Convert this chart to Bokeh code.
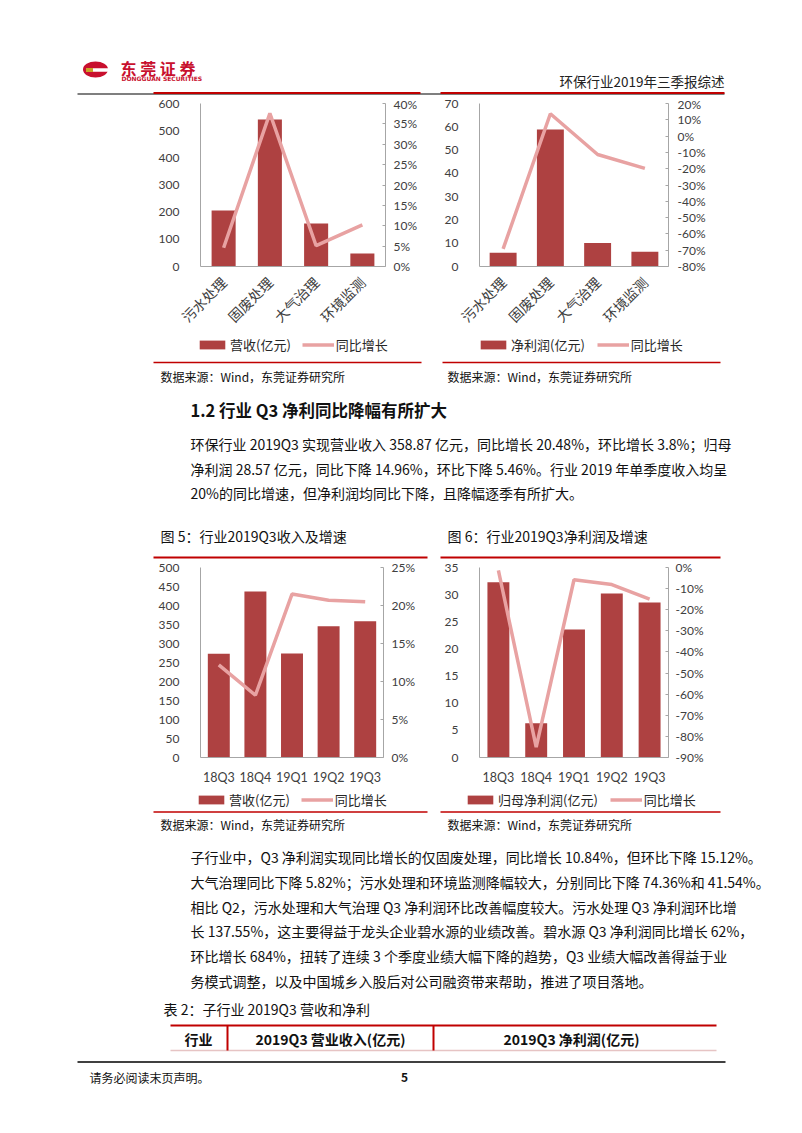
from math import pi
from bokeh.plotting import figure
from bokeh.layouts import column, row
from bokeh.models import (Range1d, FactorRange, LinearAxis, FixedTicker,
                          PrintfTickFormatter, Legend, LegendItem)
from bokeh.core.properties import value
from bokeh.embed import file_html
from bokeh.resources import INLINE

# ---------------- data ----------------
sub_industries = ["污水处理", "固废处理", "大气治理", "环境监测"]
sub_revenue = [206, 541, 158, 48]            # 营收(亿元)
sub_revenue_yoy = [4.6, 37.6, 5.1, 10.2]     # 同比增长 %
sub_profit = [5.9, 58.8, 10.1, 6.3]          # 净利润(亿元)
sub_profit_yoy = [-69.2, 13.7, -11.3, -19.8] # 同比增长 %

quarters = ["18Q3", "18Q4", "19Q1", "19Q2", "19Q3"]
q_revenue = [273, 437, 274, 345.7, 358.87]     # 营收(亿元)
q_revenue_yoy = [12.2, 8.2, 21.5, 20.7, 20.48]  # 同比增长 %
q_profit = [32.3, 6.3, 23.6, 30.2, 28.57]       # 归母净利润(亿元)
q_profit_yoy = [-1.4, -85.1, -5.8, -8.1, -14.96]

c1_ticks = [0, 100, 200, 300, 400, 500, 600]
c1_pct_ticks = [0, 5, 10, 15, 20, 25, 30, 35, 40]
c2_ticks = [0, 10, 20, 30, 40, 50, 60, 70]
c2_pct_ticks = [-80, -70, -60, -50, -40, -30, -20, -10, 0, 10, 20]
c3_ticks = [0, 50, 100, 150, 200, 250, 300, 350, 400, 450, 500]
c3_pct_ticks = [0, 5, 10, 15, 20, 25]
c4_ticks = [0, 5, 10, 15, 20, 25, 30, 35]
c4_pct_ticks = [-90, -80, -70, -60, -50, -40, -30, -20, -10, 0]

# ---------------- styles ----------------
CJK = "Noto Sans CJK SC"
NUM = "Lato"
BAR = "#AE4141"
LINE = "#E8A2A2"
AXIS = "#A6A6A6"
RED = "#C00000"
TXT = "#111111"
NAN = float("nan")


def chart(cats, bars, pcts, yt, pt, width, height, borders,
          bar_width, rotate, right_standoff):
    p = figure(x_range=FactorRange(factors=cats),
               y_range=Range1d(yt[0], yt[-1]),
               width=width, height=height, output_backend="svg",
               toolbar_location=None,
               min_border_left=borders[0], min_border_right=borders[1],
               min_border_top=borders[2], min_border_bottom=borders[3],
               outline_line_color=None, background_fill_color="white",
               border_fill_color="white")
    p.extra_y_ranges = {"pct": Range1d(pt[0], pt[-1])}
    p.grid.grid_line_color = None

    left = p.left[0]
    left.ticker = FixedTicker(ticks=yt)
    left.axis_line_color = AXIS
    left.major_tick_line_color = None
    left.minor_tick_line_color = None
    left.major_label_standoff = 15
    left.major_label_text_font = NUM
    left.major_label_text_font_size = "12px"
    left.major_label_text_color = "#404040"

    ax = LinearAxis(y_range_name="pct", ticker=FixedTicker(ticks=pt),
                    formatter=PrintfTickFormatter(format="%d%%"))
    ax.axis_line_color = AXIS
    ax.major_tick_line_color = AXIS
    ax.major_tick_in = 3
    ax.major_tick_out = 0
    ax.minor_tick_line_color = None
    ax.major_label_standoff = right_standoff
    ax.major_label_text_font = NUM
    ax.major_label_text_font_size = "12px"
    ax.major_label_text_color = "#404040"
    p.add_layout(ax, "right")

    xa = p.below[0]
    xa.axis_line_color = AXIS
    xa.major_tick_line_color = None
    xa.minor_tick_line_color = None
    if rotate:
        xa.major_label_orientation = pi / 4
        xa.major_label_text_font = CJK
        xa.major_label_text_font_size = "14px"
        xa.major_label_standoff = 7
    else:
        xa.major_label_text_font = NUM
        xa.major_label_text_font_size = "12.5px"
        xa.major_label_standoff = 6
    xa.major_label_text_color = "#404040"

    p.vbar(x=cats, top=bars, width=bar_width, fill_color=BAR, line_color=None)
    p.line(x=cats, y=pcts, y_range_name="pct", line_color=LINE, line_width=3.5)
    return p


def strip(y0, y1):
    p = figure(width=802, height=y1 - y0, x_range=Range1d(0, 802),
               y_range=Range1d(y1, y0), output_backend="svg",
               toolbar_location=None, min_border=0, x_axis_location=None,
               y_axis_location=None, outline_line_color=None,
               background_fill_color="white", border_fill_color="white")
    p.grid.grid_line_color = None
    return p


def add_legend(s, bar_label, loc, spacing):
    # key glyphs for the chart above (bar series + growth line); NaN data,
    # so they only appear as legend keys
    rb = s.vbar(x=[NAN], top=[NAN], width=1, fill_color=BAR, line_color=None)
    rl = s.line(x=[NAN, NAN], y=[NAN, NAN], line_color=LINE, line_width=3.5)
    lg = Legend(items=[LegendItem(label=bar_label, renderers=[rb]),
                       LegendItem(label="同比增长", renderers=[rl])],
                location=loc, orientation="horizontal",
                glyph_width=32, glyph_height=11, label_height=14,
                label_standoff=2, spacing=spacing, padding=0,
                margin=0, border_line_color=None, background_fill_alpha=0,
                label_text_font=CJK, label_text_font_size="13px",
                label_text_color="#262626")
    s.add_layout(lg)


def txt(p, xs, ys, texts, size, color=TXT, align="left", bold=False, font=CJK):
    p.text(x=xs, y=ys, text=texts, text_font=value(font),
           text_font_size=size, text_color=color, text_align=align,
           text_baseline="middle",
           text_font_style="bold" if bold else "normal")


# ---------------- header strip (0..96) ----------------
sa = strip(0, 96)
sa.ellipse(x=[95], y=[69], width=25, height=16, fill_color="#C8102E",
           line_color=None)
sa.rect(x=[100], y=[69.5], width=20, height=3.5, fill_color="white",
        line_color=None)
sa.rect(x=[89], y=[69.5], width=7, height=4, fill_color="#C9A227",
        line_color=None)
txt(sa, [120], [67], ["东 莞 证 券"], "16px", color="#C8102E", bold=True)
txt(sa, [121], [77.5], ["DONGGUAN SECURITIES"], "6px", color="#C8102E",
    bold=True, font="DejaVu Sans")
txt(sa, [724], [80], ["环保行业2019年三季报综述"], "13.5px", color="#222222",
    align="right")
sa.segment(x0=[77], y0=[93.5], x1=[724], y1=[93.5], line_color="#000000",
           line_width=1.2)
sa.segment(x0=[153, 440], y0=[92.5, 92.5], x1=[420, 724], y1=[92.5, 92.5],
           line_color=RED, line_width=2)

# ---------------- chart row 1 (96..336) ----------------
c1 = chart(sub_industries, sub_revenue, sub_revenue_yoy,
           c1_ticks, c1_pct_ticks, 435, 240, (200, 50, 7, 69), 0.52, True, 8)
c2 = chart(sub_industries, sub_profit, sub_profit_yoy,
           c2_ticks, c2_pct_ticks, 367, 240, (44, 134, 7, 69), 0.57, True, 9)

# ---------------- middle strip (336..559) ----------------
sb = strip(336, 559)
add_legend(sb, "营收(亿元)", (196, 205), 11)
add_legend(sb, "净利润(亿元)", (477, 205), 12)
sb.segment(x0=[153, 442], y0=[362, 362], x1=[421, 720], y1=[362, 362],
           line_color=RED, line_width=1.5)
txt(sb, [160, 447], [376, 376],
    ["数据来源：Wind，东莞证券研究所", "数据来源：Wind，东莞证券研究所"], "12px")
txt(sb, [190], [409], ["1.2 行业 Q3 净利同比降幅有所扩大"], "16.5px", bold=True)
txt(sb, [190, 190, 190], [443, 468, 492],
    ["环保行业 2019Q3 实现营业收入 358.87 亿元，同比增长 20.48%，环比增长 3.8%；归母",
     "净利润 28.57 亿元，同比下降 14.96%，环比下降 5.46%。行业 2019 年单季度收入均呈",
     "20%的同比增速，但净利润均同比下降，且降幅逐季有所扩大。"], "14px")
txt(sb, [160, 447], [535, 535],
    ["图 5：行业2019Q3收入及增速", "图 6：行业2019Q3净利润及增速"], "14px")
sb.segment(x0=[153, 440], y0=[557, 557], x1=[427, 720], y1=[557, 557],
           line_color=RED, line_width=2)

# ---------------- chart row 2 (559..788) ----------------
c3 = chart(quarters, q_revenue, q_revenue_yoy,
           c3_ticks, c3_pct_ticks, 435, 229, (200, 52, 7, 31), 0.6, False, 8)
c4 = chart(quarters, q_profit, q_profit_yoy,
           c4_ticks, c4_pct_ticks, 367, 229, (44, 134, 8, 31), 0.58, False, 7)

# ---------------- bottom strip (788..1133) ----------------
sc = strip(788, 1133)
add_legend(sc, "营收(亿元)", (195, 324), 11)
add_legend(sc, "归母净利润(亿元)", (464, 324), 12)
sc.segment(x0=[153, 440], y0=[811.5, 811.5], x1=[427, 720], y1=[811.5, 811.5],
           line_color=RED, line_width=1.5)
txt(sc, [160, 447], [824, 824],
    ["数据来源：Wind，东莞证券研究所", "数据来源：Wind，东莞证券研究所"], "12px")
txt(sc, [190] * 6, [856, 881, 906, 930, 955, 980],
    ["子行业中，Q3 净利润实现同比增长的仅固废处理，同比增长 10.84%，但环比下降 15.12%。",
     "大气治理同比下降 5.82%；污水处理和环境监测降幅较大，分别同比下降 74.36%和 41.54%。",
     "相比 Q2，污水处理和大气治理 Q3 净利润环比改善幅度较大。污水处理 Q3 净利润环比增",
     "长 137.55%，这主要得益于龙头企业碧水源的业绩改善。碧水源 Q3 净利润同比增长 62%，",
     "环比增长 684%，扭转了连续 3 个季度业绩大幅下降的趋势，Q3 业绩大幅改善得益于业",
     "务模式调整，以及中国城乡入股后对公司融资带来帮助，推进了项目落地。"], "14px")
txt(sc, [163], [1008], ["表 2：子行业 2019Q3 营收和净利"], "14px")
sc.segment(x0=[170], y0=[1050], x1=[716], y1=[1050], line_color="#E6C4C4",
           line_width=1.5)
sc.segment(x0=[227, 433], y0=[1025, 1025], x1=[227, 433], y1=[1050, 1050],
           line_color=RED, line_width=2)
sc.segment(x0=[170], y0=[1025], x1=[716], y1=[1025], line_color=RED,
           line_width=2)
txt(sc, [198, 330, 571], [1038, 1038, 1038],
    ["行业", "2019Q3 营业收入(亿元)", "2019Q3 净利润(亿元)"], "14px",
    align="center", bold=True)
sc.segment(x0=[77], y0=[1061.5], x1=[725], y1=[1061.5], line_color="#000000",
           line_width=1.5)
txt(sc, [89], [1077], ["请务必阅读末页声明。"], "12px")
txt(sc, [404], [1077], ["5"], "12px", align="center", bold=True)

page = column(sa, row(c1, c2), sb, row(c3, c4), sc)

open("out.html", "w").write(file_html(page, INLINE))
